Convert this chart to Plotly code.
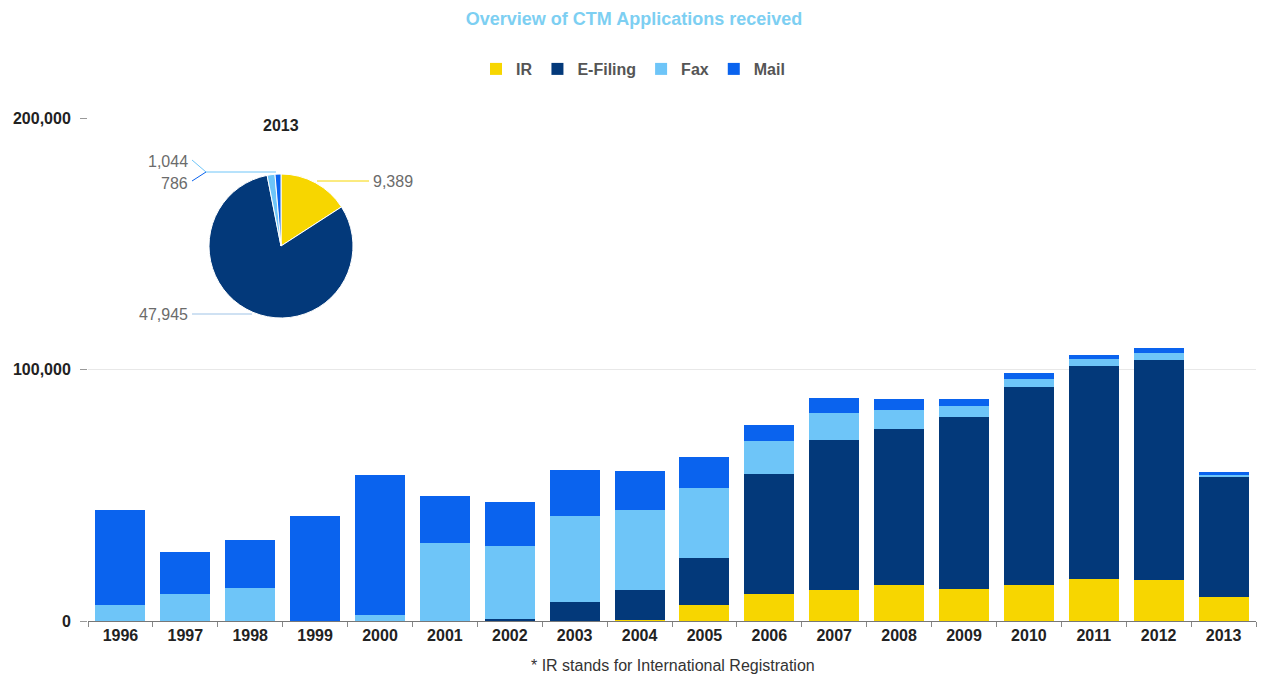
import plotly.graph_objects as go

# CTM applications received per year, by filing channel
years = ["1996", "1997", "1998", "1999", "2000", "2001", "2002", "2003", "2004",
         "2005", "2006", "2007", "2008", "2009", "2010", "2011", "2012", "2013"]
ir = [0, 0, 0, 0, 0, 0, 0, 0, 500, 6200, 10700, 12500, 14500, 12900, 14300, 16700, 16300, 9389]
e_filing = [0, 0, 0, 0, 0, 0, 700, 7700, 12000, 18800, 47900, 59400, 61700, 68400, 78700,
            84600, 87600, 47945]
fax = [6400, 10900, 13100, 0, 2400, 31000, 29300, 33900, 31700, 27700, 12800, 10700, 7700,
       4200, 3200, 2900, 2800, 1044]
mail = [37700, 16700, 19000, 41900, 55600, 18900, 17400, 18600, 15600, 12600, 6500, 6200,
        4200, 2700, 2300, 1700, 1700, 786]

series_names = ["IR", "E-Filing", "Fax", "Mail"]
colors = ["#F7D600", "#03397A", "#6EC5F8", "#0A63EE"]
y_ticks = [0, 100000, 200000]
y_tick_text = ["0", "100,000", "200,000"]

FONT = "Arial, Liberation Sans, sans-serif"

# plot-area geometry (pixels) used to place the inset pie and its callouts
W, H = 1265, 680
L, R, T, B = 88, 9, 118, 59
PW, PH = W - L - R, H - T - B


def px(x):
    return (x - L) / PW


def py(y):
    return (H - B - y) / PH


fig = go.Figure()
for name, vals, col in zip(series_names, [ir, e_filing, fax, mail], colors):
    fig.add_trace(go.Bar(x=years, y=vals, name=f"<b>{name}</b>", marker_color=col,
                         marker_line_width=0))

# inset pie for the latest year
pie_vals = [ir[-1], e_filing[-1], fax[-1], mail[-1]]
fig.add_trace(go.Pie(
    values=pie_vals, labels=series_names, sort=False, direction="clockwise",
    rotation=0, marker=dict(colors=colors, line=dict(color="white", width=1)),
    textinfo="none", showlegend=False, hoverinfo="label+value",
    domain=dict(x=[px(209), px(353)], y=[py(318), py(174)]),
))

gray_txt = "#6b6b6b"
lbl_font = dict(family=FONT, size=16, color=gray_txt)
annotations = [
    dict(text=f"<b>{years[-1]}</b>", x=px(281), y=py(126), xref="paper", yref="paper",
         showarrow=False, font=dict(family=FONT, size=16, color="#222"),
         xanchor="center", yanchor="middle"),
    dict(text=f"{pie_vals[0]:,}", x=px(371), y=py(182), xref="paper", yref="paper",
         showarrow=False, font=lbl_font, xanchor="left", yanchor="middle"),
    dict(text=f"{pie_vals[1]:,}", x=px(190), y=py(314), xref="paper", yref="paper",
         showarrow=False, font=lbl_font, xanchor="right", yanchor="middle"),
    dict(text=f"{pie_vals[2]:,}", x=px(190), y=py(161), xref="paper", yref="paper",
         showarrow=False, font=lbl_font, xanchor="right", yanchor="middle"),
    dict(text=f"{pie_vals[3]:,}", x=px(190), y=py(183), xref="paper", yref="paper",
         showarrow=False, font=lbl_font, xanchor="right", yanchor="middle"),
    dict(text="* IR stands for International Registration", x=px(673), y=py(665),
         xref="paper", yref="paper", showarrow=False,
         font=dict(family=FONT, size=16, color="#333"),
         xanchor="center", yanchor="middle"),
]


def seg(points, color):
    path = "M " + " L ".join(f"{px(a)},{py(b)}" for a, b in points)
    return dict(type="path", path=path, xref="paper", yref="paper",
                line=dict(color=color, width=1))


shapes = [
    seg([(317, 181), (369, 181)], "#F7D600"),
    seg([(192, 314), (252, 314)], "#9fc3e6"),
    seg([(192, 160), (206, 172), (276, 172)], "#6EC5F8"),
    seg([(192, 181), (206, 172)], "#0A63EE"),
]

fig.update_layout(
    width=W, height=H,
    margin=dict(l=L, r=R, t=T, b=B),
    paper_bgcolor="white", plot_bgcolor="white",
    barmode="stack", bargap=0.23,
    title=dict(text="<b>Overview of CTM Applications received</b>", x=634 / W,
               xref="container", xanchor="center", y=1 - 19 / H, yanchor="middle",
               font=dict(family=FONT, size=18, color="#7DCFF2")),
    legend=dict(orientation="h", x=px(633), xanchor="center", y=py(69), yanchor="middle",
                font=dict(family=FONT, size=16, color="#555"), traceorder="normal",
                itemclick=False, bgcolor="rgba(0,0,0,0)"),
    annotations=annotations,
    shapes=shapes,
    font=dict(family=FONT),
)

fig.update_xaxes(
    type="category", range=[-0.5, 17.5], tickson="boundaries", ticks="outside",
    ticklen=5, tickcolor="#888", showline=True, linecolor="#777", linewidth=1,
    showgrid=False, tickfont=dict(family=FONT, size=16, color="#222"),
    tickprefix="<b>", ticksuffix="</b>",
)
fig.update_yaxes(
    range=[0, 200000], tickvals=y_ticks, ticktext=[f"<b>{t}</b>" for t in y_tick_text],
    ticks="outside", ticklen=7, tickcolor="#999", showgrid=True, gridcolor="#e8e8e8",
    zeroline=False, showline=False, tickfont=dict(family=FONT, size=16, color="#222"),
    ticklabelstandoff=6,
)

fig.write_html("out.html")
